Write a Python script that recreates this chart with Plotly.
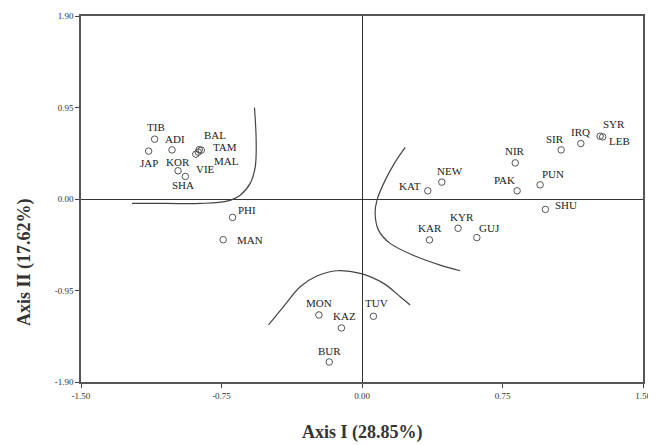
import plotly.graph_objects as go

# Population codes and their coordinates on the two principal axes
labels = ["TIB", "JAP", "ADI", "KOR", "SHA", "BAL", "TAM", "MAL", "VIE", "PHI", "MAN",
          "KAT", "NEW", "NIR", "PAK", "PUN", "SIR", "IRQ", "SYR", "LEB", "SHU",
          "KYR", "KAR", "GUJ", "MON", "KAZ", "TUV", "BUR"]
axis1 = [-1.107, -1.139, -1.014, -0.982, -0.943, -0.869, -0.858, -0.874, -0.887, -0.691, -0.741,
         0.351, 0.426, 0.818, 0.828, 0.951, 1.063, 1.168, 1.271, 1.285, 0.979,
         0.513, 0.360, 0.613, -0.230, -0.110, 0.061, -0.175]
axis2 = [0.621, 0.497, 0.510, 0.293, 0.234, 0.512, 0.507, 0.487, 0.466, -0.191, -0.423,
         0.085, 0.175, 0.375, 0.085, 0.147, 0.510, 0.576, 0.652, 0.645, -0.108,
         -0.304, -0.425, -0.401, -1.204, -1.339, -1.218, -1.692]

# label offsets (pixels) relative to each point
label_dx = [1, 0, 3, 0, -2, 16, 24, 28, 10, 14, 27,
            -18, 8, 0, -13, 13, -6, 0, 14, 17, 21,
            4, 1, 13, 0, 3, 3, 0]
label_dy = [12, -12, 11, 9, -9, 15, 3, -9, -15, 7, 0,
            5, 11, 12, 11, 11, 11, 12, 12, -4, 4,
            11, 12, 10, 12, 12, 13, 11]

# boundary curves
curve1_x = [-0.574, -0.565, -0.570, -0.597, -0.650, -0.721, -0.863, -1.041, -1.228]
curve1_y = [0.950, 0.611, 0.334, 0.162, 0.040, -0.022, -0.046, -0.046, -0.046]
curve2_x = [0.231, 0.177, 0.124, 0.080, 0.070, 0.088, 0.150, 0.293, 0.417, 0.524]
curve2_y = [0.535, 0.383, 0.196, -0.011, -0.149, -0.323, -0.461, -0.600, -0.686, -0.745]
curve3_x = [-0.499, -0.419, -0.330, -0.241, -0.134, -0.010, 0.115, 0.204, 0.257]
curve3_y = [-1.308, -1.118, -0.911, -0.800, -0.745, -0.772, -0.876, -1.015, -1.101]

x_ticks = [-1.50, -0.75, 0.00, 0.75, 1.50]
y_ticks = [1.90, 0.95, 0.00, -0.95, -1.90]
x_title = "Axis I (28.85%)"
y_title = "Axis II (17.62%)"

serif = "Liberation Serif"
fig = go.Figure()

for cx, cy in [(curve1_x, curve1_y), (curve2_x, curve2_y), (curve3_x, curve3_y)]:
    fig.add_trace(go.Scatter(x=cx, y=cy, mode="lines",
                             line=dict(color="#444444", width=1.2, shape="spline"),
                             hoverinfo="skip", showlegend=False))

fig.add_trace(go.Scatter(x=axis1, y=axis2, mode="markers", text=labels,
                         marker=dict(symbol="circle-open", size=6.5, color="#555555",
                                     line=dict(width=1)),
                         showlegend=False))

for lab, x, y, dx, dy in zip(labels, axis1, axis2, label_dx, label_dy):
    fig.add_annotation(x=x, y=y, text=lab, showarrow=False, xshift=dx, yshift=dy,
                       font=dict(family=serif, size=11, color="#222222"))

# axis titles
fig.add_annotation(xref="paper", yref="paper", x=0.5, y=0, yshift=-50,
                   xanchor="center", yanchor="middle",
                   text=f"<b>{x_title}</b>", showarrow=False,
                   font=dict(family=serif, size=18, color="#333333"))
fig.add_annotation(xref="paper", yref="paper", x=0, xshift=-56, y=0.328,
                   xanchor="center", yanchor="middle",
                   text=f"<b>{y_title}</b>", showarrow=False, textangle=-90,
                   font=dict(family=serif, size=18, color="#333333"))

# the page body adds an 8px offset, so the figure is sized to compensate
fig.update_layout(
    width=648, height=437,
    margin=dict(l=73, r=13, t=8, b=63),
    plot_bgcolor="white", paper_bgcolor="white",
    font=dict(family=serif, color="#222222"),
)
common = dict(ticks="outside", ticklen=4, tickcolor="#444444",
              tickfont=dict(family=serif, size=9, color="#333333"),
              showline=True, linecolor="#555555", linewidth=1.5, mirror=True,
              showgrid=False, zeroline=True, zerolinecolor="#333333", zerolinewidth=1,
              automargin=False, ticklabeloverflow="allow")
fig.update_xaxes(range=[-1.5, 1.5], tickvals=x_ticks,
                 ticktext=[f"{v:.2f}" for v in x_ticks], **common)
fig.update_yaxes(range=[-1.9, 1.9], tickvals=y_ticks,
                 ticktext=[f"{v:.2f}" for v in y_ticks], **common)

fig.write_html("out.html")
